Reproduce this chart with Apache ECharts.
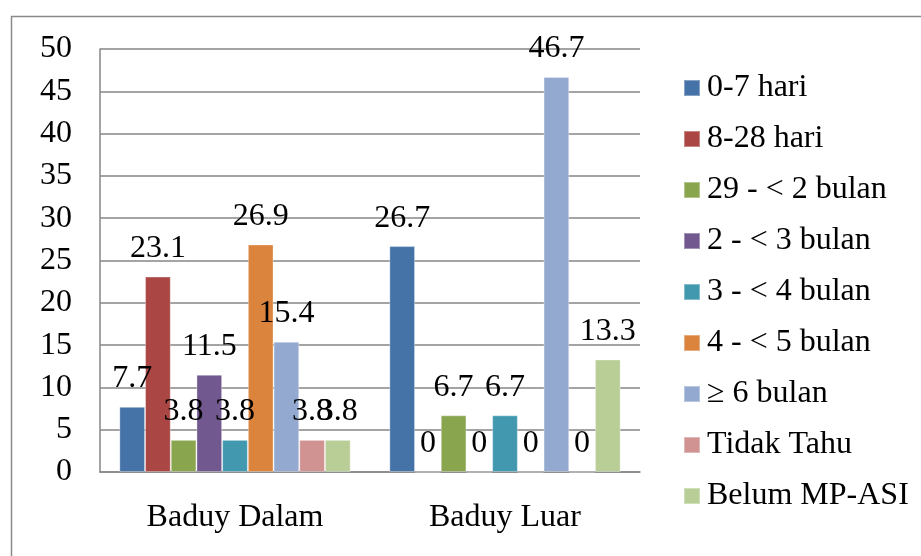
<!DOCTYPE html>
<html>
<head>
<meta charset="utf-8">
<script src="https://cdn.jsdelivr.net/npm/echarts@6/dist/echarts.min.js"></script>
<style>
  html, body { margin: 0; padding: 0; background: #ffffff; }
  #chart { width: 921px; height: 556px; }
</style>
</head>
<body>
<div id="chart"></div>
<script>
// Age at first complementary feeding (MP-ASI), percent of children per group
const categories = ['Baduy Dalam', 'Baduy Luar'];
const seriesNames = [
  '0-7 hari', '8-28 hari', '29 - < 2 bulan', '2 - < 3 bulan', '3 - < 4 bulan',
  '4 - < 5 bulan', '\u2265 6 bulan', 'Tidak Tahu', 'Belum MP-ASI'
];
const hari0to7    = [7.7, 26.7];
const hari8to28   = [23.1, 0];
const hari29to2bl = [3.8, 6.7];
const bulan2to3   = [11.5, 0];
const bulan3to4   = [3.8, 6.7];
const bulan4to5   = [26.9, 0];
const bulan6plus  = [15.4, 46.7];
const tidakTahu   = [3.8, 0];
const belumMPASI  = [3.8, 13.3];
const yTicks = [0, 5, 10, 15, 20, 25, 30, 35, 40, 45, 50];

const seriesValues = [hari0to7, hari8to28, hari29to2bl, bulan2to3, bulan3to4,
                      bulan4to5, bulan6plus, tidakTahu, belumMPASI];
const palette = ['#4572A7', '#AA4643', '#89A54E', '#71588F', '#4198AF',
                 '#DB843D', '#93A9CF', '#D19392', '#B9CD96'];

const FONT = '"Liberation Serif", "Times New Roman", serif';
const FONT_SIZE = 32;
const chart = echarts.init(document.getElementById('chart'), null, { renderer: 'canvas' });

chart.setOption({
  animation: false,
  backgroundColor: '#ffffff',
  color: palette,
  textStyle: { fontFamily: FONT, color: '#000' },
  graphic: [{
    type: 'rect',
    shape: { x: 11.5, y: 16.5, width: 1000, height: 1000 },
    style: { fill: 'none', stroke: '#8a8a8a', lineWidth: 1.5 },
    silent: true
  }],
  grid: { left: 100, right: 281, top: 49, bottom: 84, containLabel: false },
  legend: {
    orient: 'vertical',
    left: 683,
    top: 72,
    padding: 0,
    itemWidth: 16,
    itemHeight: 16,
    itemGap: 19,
    icon: 'rect',
    textStyle: {
      fontFamily: FONT, fontSize: FONT_SIZE, lineHeight: 32, color: '#000',
      padding: [0, 0, 0, 2]
    },
    data: seriesNames
  },
  xAxis: {
    type: 'category',
    data: categories,
    axisTick: { show: false },
    axisLine: { lineStyle: { color: '#868686', width: 1.5 } },
    axisLabel: { fontFamily: FONT, fontSize: FONT_SIZE, color: '#000', margin: 30 }
  },
  yAxis: {
    type: 'value',
    min: yTicks[0],
    max: yTicks[yTicks.length - 1],
    interval: 5,
    axisLine: { show: true, lineStyle: { color: '#868686', width: 1.5 } },
    axisTick: { show: false },
    axisLabel: { fontFamily: FONT, fontSize: FONT_SIZE, color: '#000', margin: 28 },
    splitLine: { lineStyle: { color: '#868686', width: 1.5 } }
  },
  series: seriesNames.map((name, i) => ({
    name: name,
    type: 'bar',
    data: seriesValues[i],
    barWidth: 25.7,
    barGap: '0%',
    itemStyle: { color: palette[i], borderColor: 'rgba(255,255,255,0.35)', borderWidth: 1 },
    label: {
      show: true,
      position: 'top',
      distance: 12,
      fontFamily: FONT,
      fontSize: FONT_SIZE,
      color: '#000'
    }
  }))
});
</script>
</body>
</html>
